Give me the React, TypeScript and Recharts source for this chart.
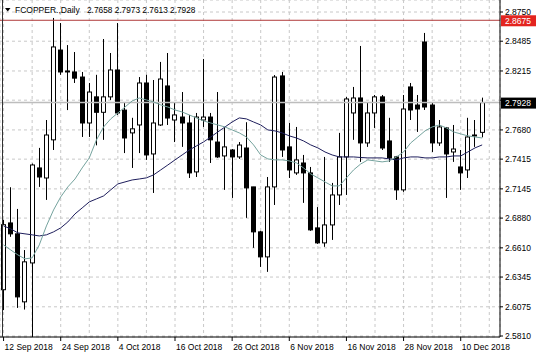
import { ComposedChart, Bar, Line, XAxis, YAxis, CartesianGrid, ReferenceLine } from 'recharts'

const symbol = 'FCOPPER.,Daily'

// daily OHLC, 12 Sep 2018 .. 13 Dec 2018
const opens = [
  2.623, 2.6836, 2.6737, 2.612, 2.6473, 2.7335, 2.7244, 2.759, 2.8405, 2.8206,
  2.8206, 2.816, 2.7743, 2.798, 2.784, 2.798, 2.8224, 2.786, 2.7653, 2.7725,
  2.8106, 2.7462, 2.7725, 2.8079, 2.777, 2.7797, 2.7743, 2.7299, 2.777, 2.7797,
  2.757, 2.7444, 2.7498, 2.7435, 2.7516, 2.7163, 2.6755, 2.6528, 2.7163, 2.817,
  2.7526, 2.729, 2.738, 2.729, 2.6791, 2.6655, 2.6818, 2.709, 2.7435, 2.7834,
  2.797, 2.7562, 2.7834, 2.798, 2.758, 2.7435, 2.7136, 2.807, 2.7906, 2.8478,
  2.7906, 2.7562, 2.7698, 2.748, 2.7344, 2.7317, 2.7625, 2.7658
]
const highs = [
  2.6865, 2.716, 2.6963, 2.659, 2.7375, 2.7517, 2.777, 2.8696, 2.865, 2.845,
  2.8387, 2.8206, 2.8106, 2.818, 2.8505, 2.8378, 2.865, 2.7925, 2.779, 2.816,
  2.818, 2.8133, 2.8297, 2.8378, 2.7925, 2.8024, 2.7816, 2.7834, 2.8324, 2.7834,
  2.8024, 2.7707, 2.7507, 2.757, 2.775, 2.7163, 2.6764, 2.7253, 2.8178, 2.8206,
  2.7743, 2.7707, 2.7453, 2.7344, 2.698, 2.7435, 2.7199, 2.7653, 2.7979, 2.807,
  2.8442, 2.7925, 2.7997, 2.7997, 2.779, 2.7444, 2.7997, 2.8106, 2.7997, 2.856,
  2.7925, 2.777, 2.7707, 2.7725, 2.7498, 2.779, 2.777, 2.7973
]
const lows = [
  2.6045, 2.671, 2.6065, 2.605, 2.5793, 2.7163, 2.7045, 2.7498, 2.818, 2.786,
  2.8106, 2.7616, 2.7616, 2.754, 2.759, 2.7952, 2.7816, 2.747, 2.7335, 2.747,
  2.7408, 2.7108, 2.7716, 2.7725, 2.757, 2.7526, 2.7244, 2.7253, 2.7707, 2.738,
  2.7426, 2.7136, 2.7063, 2.7417, 2.6882, 2.661, 2.6437, 2.6392, 2.6999, 2.7435,
  2.7244, 2.7272, 2.7018, 2.6764, 2.6646, 2.6619, 2.6682, 2.6999, 2.709, 2.759,
  2.739, 2.7526, 2.7698, 2.7498, 2.739, 2.7045, 2.7118, 2.777, 2.7662, 2.7861,
  2.748, 2.7535, 2.7063, 2.739, 2.7136, 2.7244, 2.7526, 2.7613
]
const closes = [
  2.682, 2.6737, 2.6165, 2.6483, 2.7362, 2.7253, 2.7634, 2.8433, 2.8206, 2.8215,
  2.815, 2.7743, 2.8024, 2.784, 2.798, 2.8224, 2.7834, 2.7607, 2.769, 2.8106,
  2.7453, 2.7743, 2.8142, 2.7788, 2.7816, 2.7743, 2.729, 2.7797, 2.7797, 2.759,
  2.7435, 2.7526, 2.7435, 2.7543, 2.7154, 2.6755, 2.6528, 2.7163, 2.816, 2.7498,
  2.7317, 2.7408, 2.729, 2.6773, 2.6655, 2.6818, 2.709, 2.7435, 2.7961, 2.797,
  2.7562, 2.7834, 2.798, 2.7516, 2.7426, 2.7136, 2.787, 2.7861, 2.787, 2.7888,
  2.7562, 2.7707, 2.7462, 2.7507, 2.729, 2.7616, 2.7634, 2.7928
]

// moving averages as drawn on the chart
const fastMa = [
  2.6637, 2.6591, 2.6546, 2.651, 2.6519, 2.6637, 2.6809, 2.6954, 2.7072, 2.7163,
  2.7235, 2.7335, 2.7426, 2.7589, 2.7707, 2.778, 2.7834, 2.7888, 2.7943, 2.797,
  2.7952, 2.7934, 2.7907, 2.7888, 2.7861, 2.7843, 2.7816, 2.7789, 2.7762, 2.7743,
  2.7725, 2.7707, 2.768, 2.7653, 2.7616, 2.7544, 2.7453, 2.7417, 2.7408, 2.7408,
  2.7399, 2.7381, 2.7335, 2.7281, 2.7245, 2.7208, 2.7172, 2.7172, 2.7245, 2.7317,
  2.7371, 2.7408, 2.7399, 2.739, 2.7399, 2.7435, 2.748, 2.7562, 2.7616, 2.7671,
  2.7707, 2.7725, 2.7698, 2.7662, 2.7644, 2.7626, 2.7616, 2.7607
]
const slowMa = [
  2.6809, 2.6782, 2.6746, 2.6737, 2.6728, 2.6718, 2.6728, 2.6755, 2.6791, 2.6845,
  2.6918, 2.6972, 2.7027, 2.7054, 2.7081, 2.7136, 2.719, 2.7208, 2.7226, 2.7235,
  2.7245, 2.7272, 2.7317, 2.7362, 2.7408, 2.7453, 2.7498, 2.7535, 2.7571, 2.7616,
  2.7662, 2.7707, 2.7752, 2.7789, 2.778, 2.7752, 2.7725, 2.768, 2.7671, 2.7653,
  2.7626, 2.7607, 2.758, 2.7544, 2.7517, 2.748, 2.7453, 2.7435, 2.7435, 2.7435,
  2.743, 2.7426, 2.7426, 2.7426, 2.7417, 2.7408, 2.7426, 2.7435, 2.7435, 2.7426,
  2.7426, 2.7435, 2.7435, 2.7444, 2.7444, 2.748, 2.7517, 2.7544
]

const dateLabels: Record<number, string> = {
  0: '12 Sep 2018',
  8: '24 Sep 2018',
  16: '4 Oct 2018',
  24: '16 Oct 2018',
  32: '26 Oct 2018',
  40: '6 Nov 2018',
  48: '16 Nov 2018',
  56: '28 Nov 2018',
  64: '10 Dec 2018'
}

const priceTicks = [2.581, 2.6075, 2.6345, 2.661, 2.688, 2.7145, 2.7415, 2.768, 2.795, 2.8215, 2.8485, 2.875]
const alertLevel = 2.8675
const emptySlots = 2 // chart shift on the right

const last = closes.length - 1
const bid = closes[last]

const rows = Array.from({ length: closes.length + emptySlots }, (_, i) =>
  i <= last
    ? { i, open: opens[i], high: highs[i], low: lows[i], close: closes[i], fast: fastMa[i], slow: slowMa[i] }
    : { i }
)
const gridTicks = rows.filter((r) => r.i % 4 === 0).map((r) => r.i)

const FONT = '"Liberation Sans", Arial, sans-serif'

function Candle(props: any) {
  const { x, y, width, height, payload } = props
  if (!payload || payload.open == null) return null
  const { open, close, high, low } = payload
  const k = height / (high - low)
  const yOf = (v: number) => y + (high - v) * k
  const cx = Math.round(x + width / 2 - 0.5) + 0.5
  const top = yOf(Math.max(open, close))
  const bot = yOf(Math.min(open, close))
  const up = close >= open
  return (
    <g>
      <line x1={cx} x2={cx} y1={y} y2={y + height} stroke="#000" />
      <rect x={cx - 2} y={top} width={4} height={Math.max(bot - top, 0.5)} fill={up ? '#fff' : '#000'} stroke="#000" />
    </g>
  )
}

function DateTick(props: any) {
  const { x, y, payload } = props
  const label = dateLabels[payload.value]
  if (!label) return null
  return (
    <g>
      <line x1={x} x2={x} y1={y} y2={y + 4} stroke="#000" />
      <text x={x + 1} y={y + 10} fontSize={8.5} fontFamily={FONT} fill="#000" dominantBaseline="central">
        {label}
      </text>
    </g>
  )
}

function PriceTick(props: any) {
  const { x, y, payload } = props
  const hidden = Math.abs(payload.value - bid) < 0.004
  return (
    <g>
      <line x1={x} x2={x + 3} y1={y} y2={y} stroke="#000" />
      {!hidden && (
        <text x={x + 5} y={y} fontSize={8.5} fontFamily={FONT} fill="#000" dominantBaseline="central">
          {payload.value.toFixed(4)}
        </text>
      )}
    </g>
  )
}

function priceTag(fill: string, value: number) {
  return (props: any) => {
    const vb = props.viewBox
    const right = vb.x + vb.width
    return (
      <g>
        <rect x={right + 1} y={vb.y - 5} width={35} height={11} fill={fill} />
        <text x={right + 5} y={vb.y + 0.5} fontSize={8.5} fontFamily={FONT} fill="#fff" dominantBaseline="central">
          {value.toFixed(4)}
        </text>
      </g>
    )
  }
}

export default function App() {
  const ohlc = [opens[last], highs[last], lows[last], closes[last]].map((v) => v.toFixed(4)).join(' ')
  return (
    <div style={{ position: 'absolute', left: 0, top: 0, width: 536, height: 357, background: '#fff' }}>
      <ComposedChart width={536} height={357} data={rows} margin={{ top: 0, right: 0, bottom: 0, left: 0 }}>
        <CartesianGrid stroke="#c8c8c8" strokeDasharray="3 3" />
        <XAxis
          dataKey="i"
          type="category"
          ticks={gridTicks}
          interval={0}
          height={20}
          tickSize={0}
          tickMargin={0}
          tickLine={false}
          axisLine={{ stroke: '#000' }}
          tick={<DateTick />}
        />
        <YAxis
          orientation="right"
          width={36}
          domain={[2.5801, 2.8859]}
          ticks={priceTicks}
          interval={0}
          allowDataOverflow
          tickSize={0}
          tickMargin={0}
          tickLine={false}
          axisLine={{ stroke: '#000' }}
          tick={<PriceTick />}
        />
        <ReferenceLine y={bid} stroke="#bdbdbd" strokeWidth={1.5} label={priceTag('#000', bid)} />
        <ReferenceLine y={alertLevel} stroke="#b03a3a" label={priceTag('#e3241f', alertLevel)} />
        <Line dataKey="slow" stroke="#1e1e5c" strokeWidth={1} dot={false} isAnimationActive={false} />
        <Line dataKey="fast" stroke="#75a39e" strokeWidth={1} dot={false} isAnimationActive={false} />
        <Bar
          dataKey={(d: any) => (d.open == null ? null : [d.low, d.high])}
          barSize={5}
          shape={<Candle />}
          isAnimationActive={false}
        />
      </ComposedChart>
      <div style={{ position: 'absolute', left: 1.5, top: 0, width: 1, height: 337, background: '#333' }} />
      <svg width={220} height={18} style={{ position: 'absolute', left: 0, top: 0 }}>
        <path d="M5 8 L10.5 8 L7.75 11.5 Z" fill="#000" />
        <text x={15} y={10} fontSize={8.5} fontFamily={FONT} fill="#000" dominantBaseline="central">
          {symbol}
        </text>
        <text x={87} y={10} fontSize={8.3} fontFamily={FONT} fill="#000" dominantBaseline="central">
          {ohlc}
        </text>
      </svg>
    </div>
  )
}
